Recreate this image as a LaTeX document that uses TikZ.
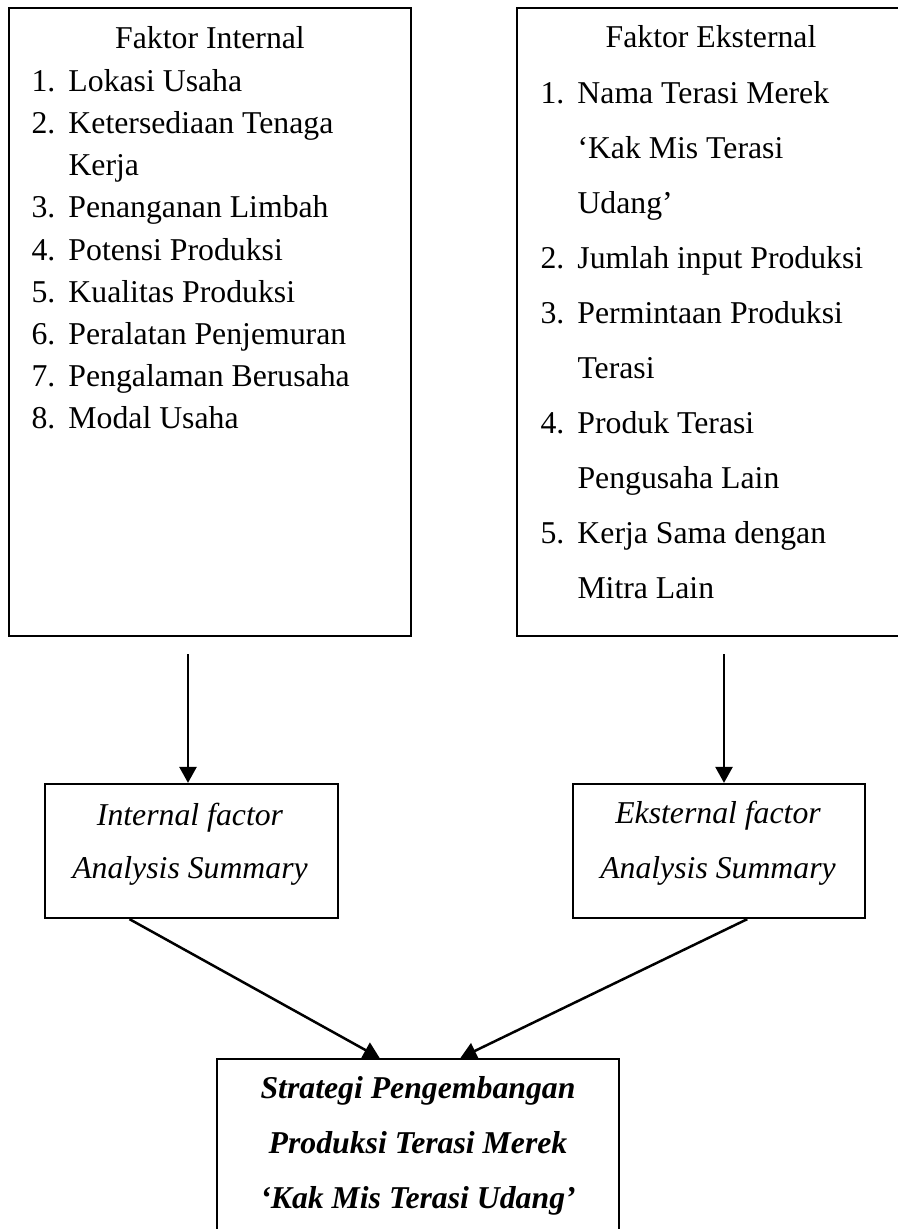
\documentclass[tikz,border=0pt]{standalone}
\usepackage{fontspec}
\setmainfont{Liberation Serif}
\usetikzlibrary{arrows.meta,calc}
\newcommand\itemno[1]{\makebox[14.8pt][l]{#1}}
\newcommand\diagfont{\fontsize{12.7}{15}\selectfont}
\tikzset{
  box/.style={draw,line width=0.9pt,inner sep=0pt},
  txt/.style={anchor=base,inner sep=0pt},
  item/.style={anchor=base west,inner sep=0pt},
  ittxt/.style={txt,font=\diagfont\itshape},
  bftxt/.style={txt,font=\diagfont\bfseries\itshape},
  arr/.style={line width=1pt,-{Triangle[width=6.8pt,length=6.4pt]}}
}
\begin{document}
\begin{tikzpicture}[x=0.4pt,y=-0.4pt,font=\diagfont]
\useasboundingbox (0,0) rectangle (898,1229);
% boxes
\node[box,minimum width=160.8pt,minimum height=251.2pt] (intbox) at (210,322) {};
\node[box,minimum width=155.2pt,minimum height=251.2pt] (ekstbox) at (711,322) {};
\node[box,minimum width=117.2pt,minimum height=53.6pt] (intsum) at (191.5,851) {};
\node[box,minimum width=116.8pt,minimum height=53.6pt] (ekstsum) at (719,851) {};
\node[box,minimum width=160.8pt,minimum height=72.4pt] (strat) at (418,1149.5) {};
% faktor internal
\node[txt] (inttitle) at (210,48) {Faktor Internal};
\node[item] (int1) at (31,91) {\itemno{1.}Lokasi Usaha};
\node[item] (int2) at (31,133) {\itemno{2.}Ketersediaan Tenaga};
\node[item] (int2b) at (68,175) {Kerja};
\node[item] (int3) at (31,217) {\itemno{3.}Penanganan Limbah};
\node[item] (int4) at (31,260) {\itemno{4.}Potensi Produksi};
\node[item] (int5) at (31,302) {\itemno{5.}Kualitas Produksi};
\node[item] (int6) at (31,344) {\itemno{6.}Peralatan Penjemuran};
\node[item] (int7) at (31,386) {\itemno{7.}Pengalaman Berusaha};
\node[item] (int8) at (31,428) {\itemno{8.}Modal Usaha};
% faktor eksternal
\node[txt] (eksttitle) at (711,47) {Faktor Eksternal};
\node[item] (ekst1) at (540,103) {\itemno{1.}Nama Terasi Merek};
\node[item] (ekst1b) at (577,158) {`Kak Mis Terasi};
\node[item] (ekst1c) at (577,213) {Udang'};
\node[item] (ekst2) at (540,268) {\itemno{2.}Jumlah input Produksi};
\node[item] (ekst3) at (540,323) {\itemno{3.}Permintaan Produksi};
\node[item] (ekst3b) at (577,378) {Terasi};
\node[item] (ekst4) at (540,433) {\itemno{4.}Produk Terasi};
\node[item] (ekst4b) at (577,488) {Pengusaha Lain};
\node[item] (ekst5) at (540,543) {\itemno{5.}Kerja Sama dengan};
\node[item] (ekst5b) at (577,598) {Mitra Lain};
% summaries
\node[ittxt] (intsum1) at (190,825) {Internal factor};
\node[ittxt] (intsum2) at (190,878) {Analysis Summary};
\node[ittxt] (ekstsum1) at (718,823) {Eksternal factor};
\node[ittxt] (ekstsum2) at (718,878) {Analysis Summary};
% strategi
\node[bftxt] (strat1) at (418,1098) {Strategi Pengembangan};
\node[bftxt] (strat2) at (418,1153) {Produksi Terasi Merek};
\node[bftxt] (strat3) at (418,1208) {`Kak Mis Terasi Udang'};
% arrows
\draw[arr,shorten <=6.8pt] ([xshift=-1.4pt]intbox.south -| intsum.north) -- ([xshift=-1.4pt]intsum.north);
\draw[arr,shorten <=6.8pt] ([xshift=2pt]ekstbox.south -| ekstsum.north) -- ([xshift=2pt]ekstsum.north);
\draw[arr] ($(intsum.south west)!0.29!(intsum.south east)$) -- ($(strat.north west)!0.405!(strat.north east)$);
\draw[arr] ($(ekstsum.south west)!0.596!(ekstsum.south east)$) -- ($(strat.north west)!0.605!(strat.north east)$);
\end{tikzpicture}
\end{document}
